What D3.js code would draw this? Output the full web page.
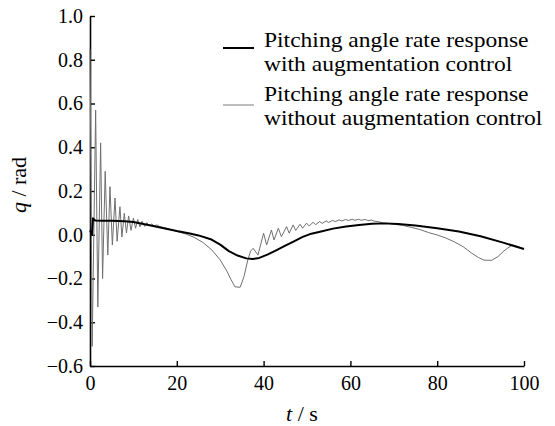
<!DOCTYPE html>
<html>
<head>
<meta charset="utf-8">
<script src="https://cdn.jsdelivr.net/npm/d3@7/dist/d3.min.js"></script>
<style>
  html, body { margin: 0; padding: 0; background: #fff; }
  svg { display: block; }
  text { font-family: "Liberation Serif", "Times New Roman", serif; fill: #000; }
</style>
</head>
<body>
<svg id="chart" width="555" height="426"></svg>
<script>
// Pitching angle rate q (rad) against time t (s)
const xTicks = [0, 20, 40, 60, 80, 100];
const yTicks = [-0.6, -0.4, -0.2, 0.0, 0.2, 0.4, 0.6, 0.8, 1.0];

// response with augmentation control: [t, q]
const withAug = [
  [0, 0.02], [0.45, 0.0], [0.7, 0.075], [1.2, 0.065], [3, 0.064],
  [5, 0.064], [8, 0.062], [10, 0.058], [12, 0.05], [14, 0.042], [17, 0.03],
  [20, 0.017], [23, 0.006], [25, -0.003], [28, -0.022], [30, -0.045], [32, -0.075],
  [34, -0.095], [36, -0.108], [37.5, -0.111], [39, -0.106], [41, -0.09], [43, -0.07],
  [45, -0.05], [47, -0.03], [49, -0.01], [51, 0.005], [53, 0.014], [56, 0.028],
  [59, 0.038], [62, 0.045], [65, 0.05], [68, 0.052], [71, 0.049], [75, 0.042],
  [80, 0.03], [85, 0.015], [90, -0.007], [95, -0.035], [100, -0.065]
];

// response without augmentation control: [t, q]
const withoutAug = [
  [0, 0.85], [0.5, -0.51], [1.3, 0.57], [1.8, -0.33], [2.45, 0.42], [2.9, -0.2],
  [3.5, 0.29], [4.1, -0.093], [4.6, 0.22], [5.15, -0.047], [5.76, 0.168], [6.25, -0.03],
  [6.9, 0.128], [7.35, -0.01], [7.9, 0.098], [8.4, 0.008], [8.9, 0.086], [9.45, 0.02],
  [10.0, 0.076], [10.5, 0.03], [11.0, 0.07], [11.5, 0.036], [12.0, 0.062], [12.6, 0.038],
  [13.1, 0.055], [13.7, 0.04], [14.2, 0.05], [14.8, 0.04], [15.4, 0.045], [16, 0.038],
  [18, 0.028], [20, 0.015], [22, 0.004], [24, -0.012], [26, -0.035], [28, -0.068],
  [30, -0.115], [31.5, -0.165], [32.5, -0.205], [33.4, -0.238], [34.6, -0.24], [35.5, -0.19],
  [36.3, -0.12], [37.0, -0.075], [37.6, -0.062], [38.7, -0.093], [40.0, 0.007], [40.7, -0.047],
  [41.8, 0.022], [42.4, -0.024], [43.4, 0.03], [44.1, -0.009], [45.3, 0.037], [45.9, 0.007],
  [46.8, 0.045], [47.4, 0.02], [48.4, 0.048], [49.0, 0.03], [49.9, 0.053], [50.5, 0.04],
  [51.4, 0.057], [52.0, 0.046], [52.9, 0.06], [53.5, 0.052], [54.4, 0.063], [55.0, 0.056],
  [55.9, 0.066], [56.5, 0.06], [57.4, 0.068], [58.0, 0.063], [58.9, 0.07], [59.5, 0.065],
  [60.4, 0.071], [61.0, 0.066], [61.9, 0.071], [62.5, 0.066], [63.4, 0.07], [64.0, 0.065],
  [64.9, 0.067], [65.5, 0.062], [66.4, 0.06], [67.5, 0.054], [70, 0.048], [72, 0.043],
  [74, 0.034], [76, 0.024], [78, 0.01], [80, -0.001], [82, -0.015], [84, -0.033],
  [86, -0.055], [88, -0.085], [89.5, -0.104], [90.8, -0.116], [92.5, -0.117], [94, -0.1],
  [95.2, -0.077], [96.3, -0.06], [97.3, -0.047], [98.5, -0.054], [100, -0.065]
];

const legendLabels = [
  ["Pitching angle rate response", "with augmentation control"],
  ["Pitching angle rate response", "without augmentation control"]
];

const svg = d3.select("#chart");
const margin = { left: 90, right: 31, top: 16, bottom: 60 };
const W = 555, H = 426;

const x = d3.scaleLinear().domain([0, 100]).range([margin.left, W - margin.right]);
const y = d3.scaleLinear().domain([-0.6, 1.0]).range([H - margin.bottom, margin.top]);

// axes with inward ticks
const xAxis = d3.axisBottom(x).tickValues(xTicks).tickSizeInner(-5).tickSizeOuter(0)
  .tickPadding(10).tickFormat(d3.format("d"));
const yAxis = d3.axisLeft(y).tickValues(yTicks).tickSizeInner(-5).tickSizeOuter(0)
  .tickPadding(7).tickFormat(d => d3.format(".1f")(d).replace("-", "\u2212"));

const gx = svg.append("g").attr("transform", `translate(0,${y(-0.6)})`).call(xAxis);
const gy = svg.append("g").attr("transform", `translate(${x(0)},0)`).call(yAxis);
[gx, gy].forEach(g => {
  g.select(".domain").attr("stroke", "#000").attr("stroke-width", 1.6);
  g.selectAll(".tick line").attr("stroke", "#000").attr("stroke-width", 1.4);
  g.selectAll(".tick text").attr("font-size", 20)
    .attr("font-family", "Liberation Serif, serif").attr("fill", "#000");
});

// series
const line = d3.line().x(d => x(d[0])).y(d => y(d[1]));
svg.append("path").datum(withoutAug).attr("d", line)
  .attr("fill", "none").attr("stroke", "#707070").attr("stroke-width", 1);
svg.append("path").datum(withAug).attr("d", line)
  .attr("fill", "none").attr("stroke", "#000").attr("stroke-width", 2)
  .attr("stroke-linejoin", "round");

// axis titles
const yt = svg.append("text").attr("font-size", 22).attr("text-anchor", "middle")
  .attr("transform", "translate(26,185) rotate(-90)");
yt.append("tspan").attr("font-style", "italic").text("q");
yt.append("tspan").text(" / rad");

const xt = svg.append("text").attr("font-size", 22).attr("text-anchor", "middle")
  .attr("x", 302).attr("y", 421);
xt.append("tspan").attr("font-style", "italic").text("t");
xt.append("tspan").text(" / s");

// legend (text set slightly wide)
const legendStyles = [
  { stroke: "#000", width: 2, lineY: 48, textY: 47 },
  { stroke: "#909090", width: 1.2, lineY: 105, textY: 101 }
];
legendStyles.forEach((s, i) => {
  svg.append("line").attr("x1", 223).attr("x2", 254)
    .attr("y1", s.lineY).attr("y2", s.lineY)
    .attr("stroke", s.stroke).attr("stroke-width", s.width);
  legendLabels[i].forEach((t, j) => {
    const el = svg.append("text").attr("font-size", 21).attr("x", 264)
      .attr("y", s.textY + j * 24).text(t);
    const w = el.node().getComputedTextLength();
    el.attr("textLength", w * 1.12).attr("lengthAdjust", "spacingAndGlyphs");
  });
});
</script>
</body>
</html>
